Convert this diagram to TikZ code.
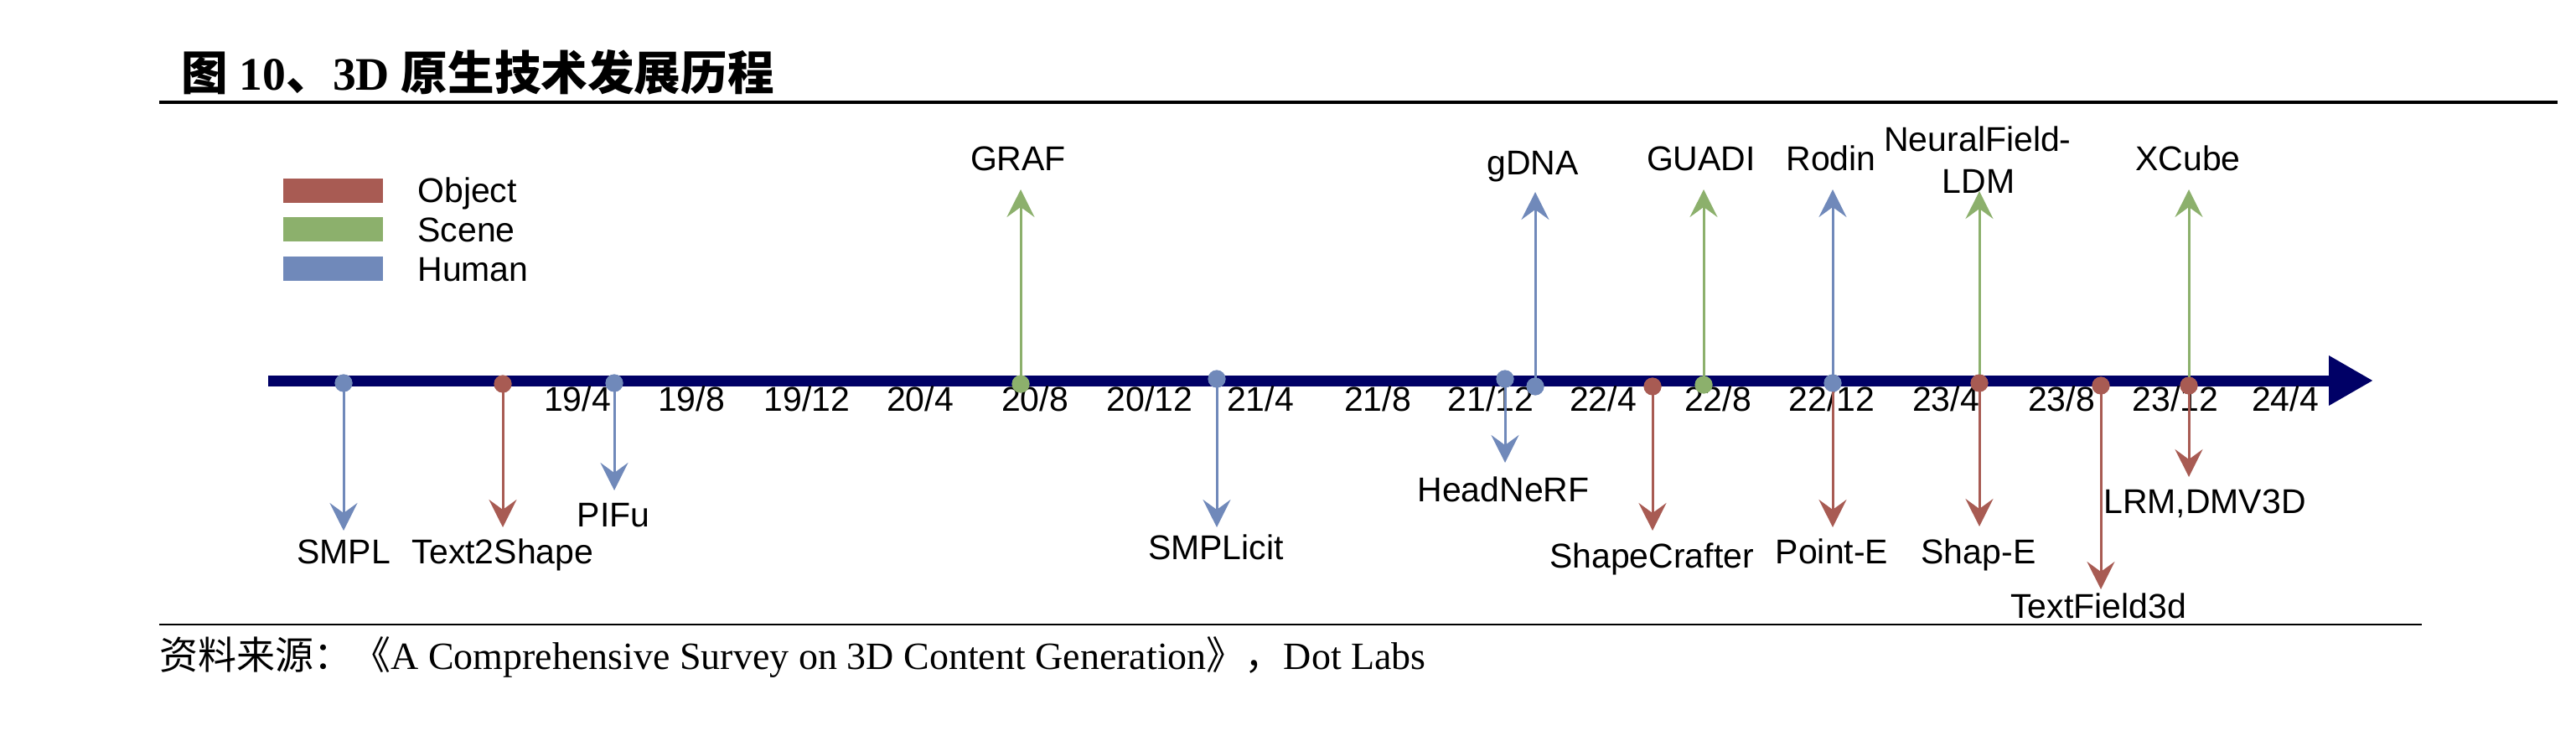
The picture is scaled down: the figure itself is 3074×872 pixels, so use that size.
\documentclass[tikz,border=0pt]{standalone}
\usepackage{fontspec}
\setmainfont{Liberation Serif}
\newfontfamily\cjk{Noto Sans CJK SC}
\newfontfamily\arialf{Liberation Sans}
\usetikzlibrary{arrows.meta}
\definecolor{objc}{RGB}{168,91,83}
\definecolor{scnc}{RGB}{140,176,108}
\definecolor{humc}{RGB}{112,137,186}
\definecolor{navyc}{RGB}{0,0,102}
\tikzset{
  lab/.style={font=\arialf\fontsize{20.5}{22}\selectfont, inner sep=0pt, text=black},
  evdot/.style={circle, fill=#1, minimum size=10.5pt, inner sep=0pt},
  conn/.style={draw=#1, line width=1.5pt, -{Stealth[length=16.5pt,width=16.5pt,inset=6pt]}},
  legbar/.style={rectangle, minimum width=59.5pt, minimum height=14.5pt, inner sep=0pt},
}
\begin{document}
\begin{tikzpicture}[x=0.5pt,y=-0.5pt]
\useasboundingbox (0,0) rectangle (3074,872);

% title and rules
\node[anchor=base west, inner sep=0pt, font=\fontsize{27.8}{30}\selectfont\bfseries] (title) at (216,108)
  {{\cjk\bfseries 图} 10{\cjk\bfseries 、}3D {\cjk\bfseries 原生技术发展历程}};
\coordinate (r1a) at (190,122); \coordinate (r1b) at (3052,122);
\draw[line width=2.1pt] (r1a) -- (r1b);
\coordinate (r2a) at (190,745); \coordinate (r2b) at (2890,745);
\draw[line width=1.4pt] (r2a) -- (r2b);
\node[anchor=base west, inner sep=0pt, font=\fontsize{23}{25}\selectfont] (src) at (190,798)
  {{\cjk 资料来源：《}A Comprehensive Survey on 3D Content Generation{\cjk 》，}Dot Labs};

% legend
\node[legbar, fill=objc] (lbobj) at (397.5,227.5) {};
\node[legbar, fill=scnc] (lbscn) at (397.5,273) {};
\node[legbar, fill=humc] (lbhum) at (397.5,320.5) {};
\node[lab, anchor=base west] (ltobj) at (498,242) {Object};
\node[lab, anchor=base west] (ltscn) at (498,288) {Scene};
\node[lab, anchor=base west] (lthum) at (498,335) {Human};

% timeline
\coordinate (tl0) at (320,454); \coordinate (tl1) at (2832,454);
\draw[navyc, line width=6.5pt, -{Triangle[length=26.5pt,width=28pt]}] (tl0) -- (tl1);

% dates
\foreach \x/\t [count=\i] in {689/19\slash 4,825/19\slash 8,963/19\slash 12,1098/20\slash 4,1235/20\slash 8,1372/20\slash 12,1504/21\slash 4,1644/21\slash 8,1779/21\slash 12,1913/22\slash 4,2050/22\slash 8,2186/22\slash 12,2322/23\slash 4,2460/23\slash 8,2596/23\slash 12,2727/24\slash 4}
  \node[lab, anchor=base] (dt\i) at (\x,490) {\t};

% dots
\node[evdot=humc] (dsmpl) at (410,457) {};
\node[evdot=objc] (dtxt) at (600,458) {};
\node[evdot=humc] (dpifu) at (733,457) {};
\node[evdot=scnc] (dgraf) at (1218,458) {};
\node[evdot=humc] (dsmplicit) at (1452,452) {};
\node[evdot=humc] (dhead) at (1796,452) {};
\node[evdot=humc] (dgdna) at (1832,461) {};
\node[evdot=objc] (dshape) at (1972,461) {};
\node[evdot=scnc] (dguadi) at (2033,459) {};
\node[evdot=humc] (drodin) at (2187,457) {};
\node[evdot=objc] (dshap) at (2362,457) {};
\node[evdot=objc] (dtf) at (2507,460) {};
\node[evdot=objc] (dlrm) at (2612,460) {};

% tips
\coordinate (tsmpl) at (410,633);
\coordinate (ttxt) at (600,629);
\coordinate (tpifu) at (733,585);
\coordinate (tgraf) at (1218,226);
\coordinate (tsmplicit) at (1452,629);
\coordinate (thead) at (1796,552);
\coordinate (tgdna) at (1832,229);
\coordinate (tshape) at (1972,633);
\coordinate (tguadi) at (2033,226);
\coordinate (trodin) at (2187,226);
\coordinate (tpointe) at (2187,629);
\coordinate (tshap) at (2362,628);
\coordinate (tnf) at (2362,228);
\coordinate (ttf) at (2507,703);
\coordinate (tlrm) at (2612,569);
\coordinate (txcube) at (2612,226);

% connectors
\draw[conn=humc] (dsmpl.center) -- (tsmpl);
\draw[conn=objc] (dtxt.center) -- (ttxt);
\draw[conn=humc] (dpifu.center) -- (tpifu);
\draw[conn=scnc] (dgraf.center) -- (tgraf);
\draw[conn=humc] (dsmplicit.center) -- (tsmplicit);
\draw[conn=humc] (dhead.center) -- (thead);
\draw[conn=humc] (dgdna.center) -- (tgdna);
\draw[conn=objc] (dshape.center) -- (tshape);
\draw[conn=scnc] (dguadi.center) -- (tguadi);
\draw[conn=humc] (drodin.center) -- (trodin);
\draw[conn=objc] (drodin.center) -- (tpointe);
\draw[conn=objc] (dshap.center) -- (tshap);
\draw[conn=scnc] (dshap.center) -- (tnf);
\draw[conn=objc] (dtf.center) -- (ttf);
\draw[conn=objc] (dlrm.center) -- (tlrm);
\draw[conn=scnc] (dlrm.center) -- (txcube);

% redraw dots on top
\foreach \n/\c in {dsmpl/humc,dtxt/objc,dpifu/humc,dgraf/scnc,dsmplicit/humc,dhead/humc,dgdna/humc,dshape/objc,dguadi/scnc,drodin/humc,dshap/objc,dtf/objc,dlrm/objc}
  \fill[\c] (\n.center) circle[radius=5.25pt];

% labels
\node[lab, anchor=base] (lsmpl) at (410,672) {SMPL};
\node[lab, anchor=base] (ltxt) at (600,672) {Text2Shape};
\node[lab, anchor=base] (lpifu) at (732,628) {PIFu};
\node[lab, anchor=base] (lgraf) at (1215,203) {GRAF};
\node[lab, anchor=base] (lsmplicit) at (1451,667) {SMPLicit};
\node[lab, anchor=base] (lhead) at (1794,598) {HeadNeRF};
\node[lab, anchor=base] (lgdna) at (1829,208) {gDNA};
\node[lab, anchor=base] (lshape) at (1971,677) {ShapeCrafter};
\node[lab, anchor=base] (lguadi) at (2030,203) {GUADI};
\node[lab, anchor=base] (lrodin) at (2185,203) {Rodin};
\node[lab, anchor=base] (lpointe) at (2186,672) {Point-E};
\node[lab, anchor=base] (lshap) at (2361,672) {Shap-E};
\node[lab, anchor=base] (lnf1) at (2360,180) {NeuralField-};
\node[lab, anchor=base] (lnf2) at (2361,230) {LDM};
\node[lab, anchor=base] (ltf) at (2504,737) {TextField3d};
\node[lab, anchor=base] (llrm) at (2631,612) {LRM,DMV3D};
\node[lab, anchor=base] (lxcube) at (2611,203) {XCube};
\end{tikzpicture}
\end{document}
